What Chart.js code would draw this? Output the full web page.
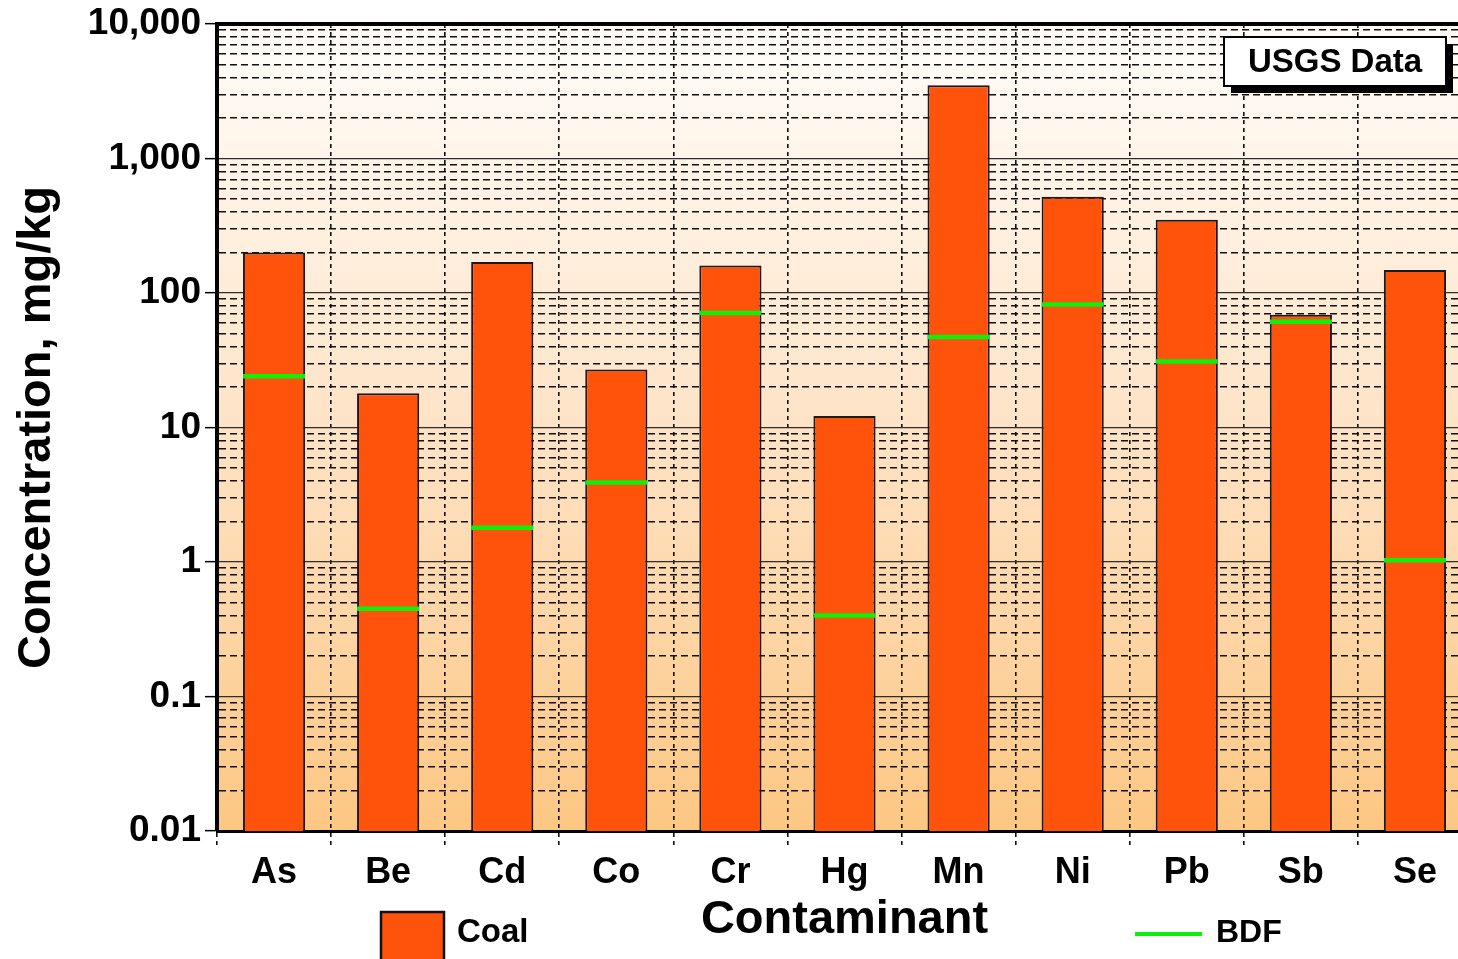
<!DOCTYPE html>
<html>
<head>
<meta charset="utf-8">
<script src="https://cdn.jsdelivr.net/npm/chart.js@4"></script>
<style>
  html, body { margin: 0; padding: 0; background: #ffffff; overflow: hidden; }
  #wrap { position: relative; width: 1458px; height: 959px; overflow: hidden; }
  #c { position: absolute; left: 0; top: 0; }
</style>
</head>
<body>
<div id="wrap"><canvas id="c" width="1480" height="959"></canvas></div>
<script>
// ---- data ----
const categories = ['As', 'Be', 'Cd', 'Co', 'Cr', 'Hg', 'Mn', 'Ni', 'Pb', 'Sb', 'Se'];
const coalValues = [200, 18, 170, 27, 160, 12.2, 3500, 520, 350, 69, 148];
const bdfValues  = [24, 0.45, 1.8, 3.9, 71, 0.40, 47, 82, 31, 61, 1.03];
const tickValues = [0.01, 0.1, 1, 10, 100, 1000, 10000];
const tickLabels = ['0.01', '0.1', '1', '10', '100', '1,000', '10,000'];
const seriesNames = ['Coal', 'BDF'];
const yTitle = 'Concentration, mg/kg';
const xTitle = 'Contaminant';
const badgeText = 'USGS Data';

const FONT = "'Liberation Sans', Arial, Helvetica, sans-serif";
const BAR_COLOR = '#ff520a';
const BDF_COLOR = '#0cf00c';
const GRID_COLOR = '#111111';
const MAJOR_COLOR = '#2e2e2e';

function isDecade(v) {
  const l = Math.log10(v);
  return Math.abs(l - Math.round(l)) < 1e-9;
}

const bgPlugin = {
  id: 'bg',
  beforeDraw(chart) {
    const {ctx, chartArea: a} = chart;
    const g = ctx.createLinearGradient(0, a.top, 0, a.bottom);
    g.addColorStop(0, '#fffdfa');
    g.addColorStop(0.5, '#fee3c6');
    g.addColorStop(1, '#fdc783');
    ctx.save();
    ctx.fillStyle = g;
    ctx.fillRect(a.left, a.top, a.right - a.left, a.bottom - a.top);
    ctx.restore();
  },
  afterDraw(chart) {
    const {ctx, chartArea: a} = chart;
    ctx.save();
    // top frame line
    ctx.strokeStyle = '#000';
    ctx.lineWidth = 4;
    ctx.beginPath();
    ctx.moveTo(a.left - 2, a.top);
    ctx.lineTo(a.right + 2, a.top);
    ctx.stroke();

    // badge "USGS Data"
    const bx = 1224, by = 37, bw = 222, bh = 49, sh = 7;
    ctx.fillStyle = '#000';
    ctx.fillRect(bx + sh, by + sh, bw, bh);
    ctx.fillStyle = '#fff';
    ctx.fillRect(bx, by, bw, bh);
    ctx.lineWidth = 2;
    ctx.strokeStyle = '#000';
    ctx.strokeRect(bx, by, bw, bh);
    ctx.fillStyle = '#000';
    ctx.font = 'bold 33px ' + FONT;
    ctx.textAlign = 'center';
    ctx.textBaseline = 'middle';
    ctx.fillText(badgeText, bx + bw / 2, by + bh / 2 + 1);

    // legend
    const ds = chart.data.datasets;
    const coal = ds.find(d => d.label === seriesNames[0]);
    const bdf = ds.find(d => d.label === seriesNames[1]);
    ctx.fillStyle = coal.backgroundColor;
    ctx.fillRect(381, 912, 63, 60);
    ctx.lineWidth = 2.5;
    ctx.strokeStyle = '#111';
    ctx.strokeRect(381, 912, 63, 60);
    ctx.fillStyle = '#000';
    ctx.font = 'bold 33px ' + FONT;
    ctx.textAlign = 'left';
    ctx.textBaseline = 'middle';
    ctx.fillText(coal.label, 457, 933);

    ctx.strokeStyle = bdf.borderColor;
    ctx.lineWidth = 4;
    ctx.beginPath();
    ctx.moveTo(1135, 934);
    ctx.lineTo(1202, 934);
    ctx.stroke();
    ctx.fillStyle = '#000';
    ctx.font = 'bold 32px ' + FONT;
    ctx.fillText(bdf.label, 1216, 933);
    ctx.restore();
  }
};

new Chart(document.getElementById('c'), {
  type: 'bar',
  data: {
    labels: categories,
    datasets: [
      {
        type: 'line',
        label: seriesNames[1],
        data: bdfValues,
        showLine: false,
        pointStyle: 'line',
        pointRadius: 31,
        pointHoverRadius: 31,
        pointBorderWidth: 4.5,
        borderColor: BDF_COLOR,
        backgroundColor: BDF_COLOR,
        order: 0
      },
      {
        type: 'bar',
        label: seriesNames[0],
        data: coalValues,
        backgroundColor: BAR_COLOR,
        borderColor: '#1a1a1a',
        borderWidth: 2,
        categoryPercentage: 1.0,
        barPercentage: 0.545,
        order: 1
      }
    ]
  },
  options: {
    responsive: false,
    animation: false,
    events: [],
    layout: { autoPadding: false, padding: { top: 24, right: 8, bottom: 0, left: 0 } },
    plugins: {
      legend: { display: false },
      tooltip: { enabled: false }
    },
    scales: {
      x: {
        type: 'category',
        offset: true,
        afterFit(s) { s.height = 128; },
        grid: {
          display: true,
          offset: true,
          color: GRID_COLOR,
          lineWidth: 1.6,
          drawTicks: true,
          tickLength: 14,
          tickColor: GRID_COLOR,
          tickWidth: 1.6,
          tickBorderDash: [4, 4]
        },
        border: { display: true, color: '#000', width: 3, dash: [4, 4] },
        ticks: {
          color: '#000',
          padding: 6,
          font: { family: FONT, size: 36, weight: 'bold' }
        },
        title: {
          display: true,
          text: xTitle,
          color: '#000',
          padding: { top: 0, bottom: 11 },
          font: { family: FONT, size: 47, weight: 'bold' }
        }
      },
      y: {
        type: 'logarithmic',
        min: tickValues[0],
        max: tickValues[tickValues.length - 1],
        afterFit(s) { s.width = 217; },
        afterBuildTicks(s) {
          const t = [];
          for (let k = 0; k < tickValues.length; k++) {
            const base = tickValues[k];
            t.push({ value: base, major: true });
            if (k < tickValues.length - 1) {
              for (let m = 2; m <= 9; m++) t.push({ value: +(base * m).toPrecision(6) });
            }
          }
          s.ticks = t;
        },
        grid: {
          color: (ctx) => (ctx.tick && isDecade(ctx.tick.value)) ? MAJOR_COLOR : GRID_COLOR,
          lineWidth: (ctx) => (ctx.tick && isDecade(ctx.tick.value)) ? 1.3 : 1.6,
          drawTicks: true,
          tickLength: 12,
          tickWidth: 1.5,
          tickColor: (ctx) => (ctx.tick && isDecade(ctx.tick.value)) ? '#000' : 'rgba(0,0,0,0)'
        },
        border: {
          display: true,
          color: '#000',
          width: 4,
          dash: (ctx) => (ctx.tick && isDecade(ctx.tick.value)) ? [] : [7, 4]
        },
        ticks: {
          autoSkip: false,
          color: '#000',
          padding: 4,
          font: { family: FONT, size: 37, weight: 'bold', lineHeight: 1.0 },
          callback(value) {
            const i = tickValues.findIndex(v => Math.abs(v - value) / v < 1e-6);
            return i >= 0 ? tickLabels[i] : '';
          }
        },
        title: {
          display: true,
          text: yTitle,
          color: '#000',
          padding: { top: 9, bottom: 0 },
          font: { family: FONT, size: 47, weight: 'bold' }
        }
      }
    }
  },
  plugins: [bgPlugin]
});
</script>
</body>
</html>
